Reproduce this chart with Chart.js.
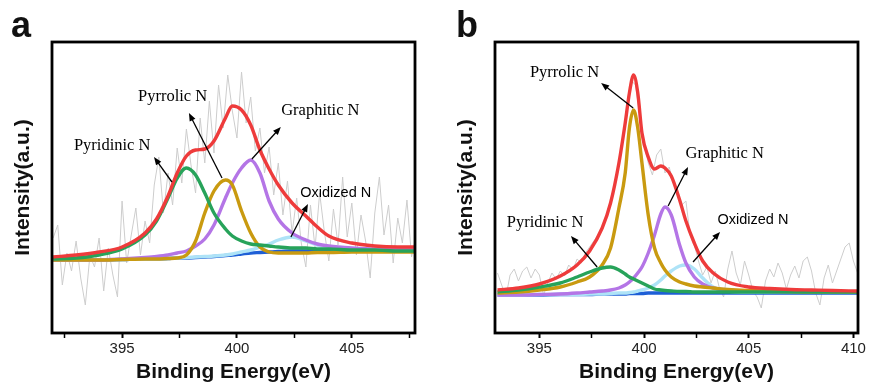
<!DOCTYPE html>
<html>
<head>
<meta charset="utf-8">
<script src="https://cdn.jsdelivr.net/npm/chart.js@4.4.1/dist/chart.umd.min.js"></script>
<style>
  body { margin: 0; background: #fff; }
  #wrap { position: relative; width: 870px; height: 387px; }
  #panelA { position: absolute; left: 0; top: 0; }
  #panelB { position: absolute; left: 435px; top: 0; }
</style>
</head>
<body>
<div id="wrap">
  <canvas id="panelA" width="435" height="387"></canvas>
  <canvas id="panelB" width="435" height="387"></canvas>
</div>
<script>
// ---- panel a : raw spectrum ----
const rawA_x = [392.0, 392.2, 392.4, 392.6, 392.8, 393.0, 393.2, 393.4, 393.6, 393.8,
  394.0, 394.2, 394.4, 394.6, 394.8, 395.0, 395.2, 395.4, 395.6, 395.8,
  396.0, 396.2, 396.4, 396.6, 396.8, 397.0, 397.2, 397.4, 397.6, 397.8,
  398.0, 398.2, 398.4, 398.6, 398.8, 399.0, 399.2, 399.4, 399.6, 399.8,
  400.0, 400.2, 400.4, 400.6, 400.8, 401.0, 401.2, 401.4, 401.6, 401.8,
  402.0, 402.2, 402.4, 402.6, 402.8, 403.0, 403.2, 403.4, 403.6, 403.8,
  404.0, 404.2, 404.4, 404.6, 404.8, 405.0, 405.2, 405.4, 405.6, 405.8,
  406.0, 406.2, 406.4, 406.6, 406.8, 407.0, 407.2, 407.4, 407.6, 407.8];
const rawA_y = [95, 108, 48, 80, 62, 92, 55, 28, 78, 66,
  95, 42, 85, 58, 36, 132, 70, 98, 125, 78,
  112, 90, 148, 176, 120, 160, 128, 185, 150, 204,
  168, 140, 215, 170, 232, 180, 248, 205, 258, 222,
  195, 261, 210, 236, 182, 205, 160, 186, 138, 170,
  118, 152, 100, 135, 90, 66, 128, 85, 140, 102,
  72, 124, 88, 156, 96, 130, 78, 118, 92, 55,
  120, 156, 98, 128, 70, 115, 90, 133, 76, 98];

// ---- panel a : fitted components ----
const fitA_x = [392, 393, 394, 395, 396, 396.5, 397, 397.4, 397.8, 398.2, 398.6, 399, 399.5, 399.8,
  400.2, 400.6, 401, 401.4, 401.8, 402.4, 403, 403.5, 404, 405, 406, 407, 407.8];
const baseA =      [73, 73, 73, 73.5, 74, 74, 74.5, 75, 75, 75.5, 76, 76.5, 77.5, 78, 79, 80, 80.5, 81, 81.5, 82, 82, 82, 82, 82, 82, 82, 82];
const pyridinicA = [74, 75, 78, 84, 98, 112, 135, 155, 165, 158, 140, 120, 104, 97, 92, 89, 88, 87, 86, 85, 85, 84, 84, 83, 83, 82, 82];
const pyrrolicA =  [73, 73, 73, 73.5, 74, 74, 74.5, 75, 78, 92, 120, 142, 153, 148, 122, 100, 86, 81, 80, 80, 80, 80.5, 80.5, 81, 81, 81, 81];
const graphiticA = [73, 73, 73, 74, 75.5, 76.5, 78, 80, 82, 87, 94, 108, 135, 150, 165, 173, 160, 132, 114, 100, 93, 89, 87, 85, 84, 84, 84];
const oxidizedA =  [73, 73, 73, 73.5, 74, 74, 74.5, 75, 75.5, 76, 76.5, 77, 78, 79, 81, 83, 86, 89, 93, 96, 92, 88, 85, 83, 82, 82, 82];
const envelopeA =  [76, 78, 81, 86, 100, 114, 137, 160, 177, 183, 184, 192, 215, 227, 223, 208, 183, 164, 148, 130, 117, 106, 97, 90, 87, 86, 86];

// ---- panel b : raw spectrum ----
const rawB_x = [393.0, 393.2, 393.4, 393.6, 393.8, 394.0, 394.2, 394.4, 394.6, 394.8,
  395.0, 395.2, 395.4, 395.6, 395.8, 396.0, 396.2, 396.4, 396.6, 396.8,
  397.0, 397.2, 397.4, 397.6, 397.8, 398.0, 398.2, 398.4, 398.6, 398.8,
  399.0, 399.2, 399.4, 399.6, 399.8, 400.0, 400.2, 400.4, 400.6, 400.8,
  401.0, 401.2, 401.4, 401.6, 401.8, 402.0, 402.2, 402.4, 402.6, 402.8,
  403.0, 403.2, 403.4, 403.6, 403.8, 404.0, 404.2, 404.4, 404.6, 404.8,
  405.0, 405.2, 405.4, 405.6, 405.8, 406.0, 406.2, 406.4, 406.6, 406.8,
  407.0, 407.2, 407.4, 407.6, 407.8, 408.0, 408.2, 408.4, 408.6, 408.8,
  409.0, 409.2, 409.4, 409.6, 409.8, 410.0, 410.2];
const rawB_y = [60, 48, 36, 58, 64, 52, 62, 66, 55, 64,
  58, 38, 50, 60, 54, 62, 57, 68, 63, 74,
  70, 80, 86, 92, 98, 104, 115, 128, 150, 172,
  195, 228, 252, 248, 215, 190, 170, 158, 178, 184,
  160, 166, 150, 138, 128, 132, 98, 88, 72, 58,
  66, 50, 62, 45, 36, 64, 82, 60, 48, 72,
  58, 42, 36, 25, 52, 64, 56, 70, 60, 44,
  58, 67, 55, 72, 76, 62, 40, 28, 55, 68,
  50, 62, 74, 86, 90, 72, 60];

// ---- panel b : fitted components ----
const fitB_x = [393, 394, 395, 396, 396.8, 397.4, 398, 398.4, 398.8, 399.1, 399.3, 399.5, 399.7, 399.9,
  400.2, 400.5, 400.8, 401, 401.3, 401.7, 402, 402.4, 402.8, 403.3, 404, 405, 406, 407, 408, 409, 410.2];
const baseB =      [38, 38, 38, 38.5, 38.5, 38.5, 39, 39, 39, 39, 39.5, 39.5, 39.5, 39.5, 40, 40, 40, 40, 40, 40, 40, 40, 40, 40, 40, 40, 40, 40, 40, 40, 40];
const pyridinicB = [41, 43, 46, 50, 56, 61, 65, 66, 63, 59, 56, 54, 52, 50, 47, 44, 43, 42.5, 42, 41.5, 41.5, 41, 41, 41, 41, 41, 41, 41, 41, 41, 41];
const pyrrolicB =  [40, 41, 43, 46, 51, 56, 68, 85, 125, 160, 205, 223, 205, 170, 118, 85, 70, 63, 56, 51, 49, 47, 46, 45, 43.5, 42.5, 42, 41.5, 41, 41, 41];
const graphiticB = [38, 38, 38.5, 39, 40, 41, 42, 43, 45, 48, 51, 55, 60, 66, 80, 98, 119, 126, 118, 88, 70, 56, 49, 45, 43, 42, 41.5, 41, 41, 41, 41];
const oxidizedB =  [38, 38, 38.5, 38.5, 38.5, 39, 39, 39.5, 40, 40, 40.5, 41, 42, 43, 45, 48, 53, 57, 62, 67, 68, 64, 55, 46, 42, 41, 41, 41, 41, 41, 41];
const envelopeB =  [43, 45, 49, 57, 68, 82, 105, 130, 170, 210, 240, 258, 240, 200, 176, 164, 167, 165, 157, 133, 112, 90, 72, 60, 51, 46, 44.5, 43.5, 43, 42.5, 42];

// tick positions (major every 5, minor halfway)
const ticksA = [392.5, 395, 397.5, 400, 402.5, 405, 407.5];
const ticksB = [395, 397.5, 400, 402.5, 405, 407.5, 410];

// annotation text + arrows, in data units
const notesA = [
  {text: 'Pyridinic N', tx: 394.57, ty: 187, x0: 397.17, y0: 151, x1: 396.39, y1: 176, serif: true},
  {text: 'Pyrrolic N', tx: 397.2, ty: 236, x0: 399.35, y0: 155, x1: 397.91, y1: 220, serif: true},
  {text: 'Graphitic N', tx: 403.63, ty: 222, x0: 400.65, y0: 174, x1: 401.91, y1: 206, serif: true},
  {text: 'Oxidized N', tx: 404.3, ty: 140, x0: 402.35, y0: 96, x1: 403.09, y1: 129, serif: false}
];
const notesB = [
  {text: 'Pyrrolic N', tx: 396.2, ty: 260, x0: 399.48, y0: 225, x1: 397.95, y1: 250, serif: true},
  {text: 'Graphitic N', tx: 403.85, ty: 179, x0: 401.15, y0: 127, x1: 402.1, y1: 166, serif: true},
  {text: 'Pyridinic N', tx: 395.27, ty: 110, x0: 397.76, y0: 66, x1: 396.51, y1: 97, serif: true},
  {text: 'Oxidized N', tx: 405.2, ty: 113, x0: 402.34, y0: 71, x1: 403.63, y1: 101, serif: false}
];

const pts = (xs, ys) => xs.map((x, i) => ({x: x, y: ys[i]}));

function fitLine(label, xs, ys, color, order) {
  return {
    label: label, data: pts(xs, ys), borderColor: color, borderWidth: 3.4,
    pointRadius: 0, cubicInterpolationMode: 'monotone', fill: false, order: order
  };
}

const decor = {
  id: 'decor',
  afterDraw(chart, args, opts) {
    const ctx = chart.ctx, a = chart.chartArea;
    const x = chart.scales.x, y = chart.scales.y;
    ctx.save();
    ctx.strokeStyle = '#000';
    ctx.lineWidth = 2.8;
    ctx.strokeRect(a.left, a.top, a.right - a.left, a.bottom - a.top);

    opts.notes.forEach(n => {
      const px0 = x.getPixelForValue(n.x0), py0 = y.getPixelForValue(n.y0);
      const px1 = x.getPixelForValue(n.x1), py1 = y.getPixelForValue(n.y1);
      const ang = Math.atan2(py1 - py0, px1 - px0);
      ctx.strokeStyle = '#000';
      ctx.lineWidth = 1.3;
      ctx.beginPath();
      ctx.moveTo(px0, py0);
      ctx.lineTo(px1 - 5 * Math.cos(ang), py1 - 5 * Math.sin(ang));
      ctx.stroke();
      ctx.fillStyle = '#000';
      ctx.beginPath();
      ctx.moveTo(px1, py1);
      ctx.lineTo(px1 - 8 * Math.cos(ang) + 3.2 * Math.sin(ang), py1 - 8 * Math.sin(ang) - 3.2 * Math.cos(ang));
      ctx.lineTo(px1 - 8 * Math.cos(ang) - 3.2 * Math.sin(ang), py1 - 8 * Math.sin(ang) + 3.2 * Math.cos(ang));
      ctx.closePath();
      ctx.fill();

      ctx.fillStyle = '#000';
      ctx.font = n.serif ? '16.5px "Liberation Serif"' : '14.5px "Liberation Sans"';
      ctx.textAlign = 'center';
      ctx.textBaseline = 'middle';
      ctx.fillText(n.text, x.getPixelForValue(n.tx), y.getPixelForValue(n.ty));
    });

    ctx.fillStyle = '#111';
    ctx.font = 'bold 36px "Liberation Sans"';
    ctx.textAlign = 'left';
    ctx.textBaseline = 'alphabetic';
    ctx.fillText(opts.tag, opts.tagX, 37);
    ctx.restore();
  }
};

function makePanel(canvasId, p) {
  const datasets = [
    fitLine('Envelope', p.fx, p.env, '#ee3b3b', 0),
    fitLine('Pyridinic N', p.fx, p.pyd, '#27a35a', 1),
    fitLine('Pyrrolic N', p.fx, p.pyr, '#c99a10', 2),
    fitLine('Graphitic N', p.fx, p.gra, '#b475e6', 3),
    fitLine('Oxidized N', p.fx, p.oxi, '#aee3f7', 4),
    fitLine('Background', p.fx, p.base, '#1e5fd6', 5),
    {label: 'Raw', data: pts(p.rx, p.ry), borderColor: '#cdcdcd', borderWidth: 1,
     pointRadius: 0, tension: 0, fill: false, order: 6}
  ];
  return new Chart(document.getElementById(canvasId), {
    type: 'line',
    data: {datasets: datasets},
    options: {
      responsive: false,
      animation: false,
      events: [],
      layout: {padding: {left: 0, right: p.padRight, top: 42, bottom: 0}},
      plugins: {
        legend: {display: false},
        tooltip: {enabled: false},
        decor: {notes: p.notes, tag: p.tag, tagX: p.tagX}
      },
      scales: {
        x: {
          type: 'linear', min: p.xmin, max: p.xmax,
          afterBuildTicks: s => { s.ticks = p.ticks.map(v => ({value: v})); },
          afterFit: s => { s.height = 54; },
          ticks: {
            autoSkip: false, maxRotation: 0, padding: 2, color: '#222',
            font: {family: 'Liberation Sans', size: 15},
            callback: v => (v % 5 === 0 ? String(v) : '')
          },
          grid: {drawOnChartArea: false, drawTicks: true, tickLength: 5, color: '#000',
                 tickWidth: c => (c.tick && c.tick.value % 5 === 0 ? 2 : 1.5)},
          border: {display: false},
          title: {display: true, text: 'Binding Energy(eV)', color: '#111',
                  font: {family: 'Liberation Sans', size: 21, weight: 'bold'},
                  padding: {top: 0, bottom: 2}}
        },
        y: {
          min: 0, max: 291,
          afterFit: s => { s.width = p.yWidth; },
          ticks: {display: false},
          grid: {display: false},
          border: {display: false},
          title: {display: true, text: 'Intensity(a.u.)', color: '#111',
                  font: {family: 'Liberation Sans', size: 21, weight: 'bold'},
                  padding: {top: p.yTitlePad, bottom: 0}}
        }
      }
    },
    plugins: [decor]
  });
}

makePanel('panelA', {
  rx: rawA_x, ry: rawA_y, fx: fitA_x,
  env: envelopeA, pyd: pyridinicA, pyr: pyrrolicA, gra: graphiticA, oxi: oxidizedA, base: baseA,
  xmin: 391.95, xmax: 407.75, ticks: ticksA, notes: notesA,
  padRight: 20, yWidth: 52, yTitlePad: 11, tag: 'a', tagX: 11
});

makePanel('panelB', {
  rx: rawB_x, ry: rawB_y, fx: fitB_x,
  env: envelopeB, pyd: pyridinicB, pyr: pyrrolicB, gra: graphiticB, oxi: oxidizedB, base: baseB,
  xmin: 392.88, xmax: 410.22, ticks: ticksB, notes: notesB,
  padRight: 12, yWidth: 60, yTitlePad: 19, tag: 'b', tagX: 21
});
</script>
</body>
</html>
